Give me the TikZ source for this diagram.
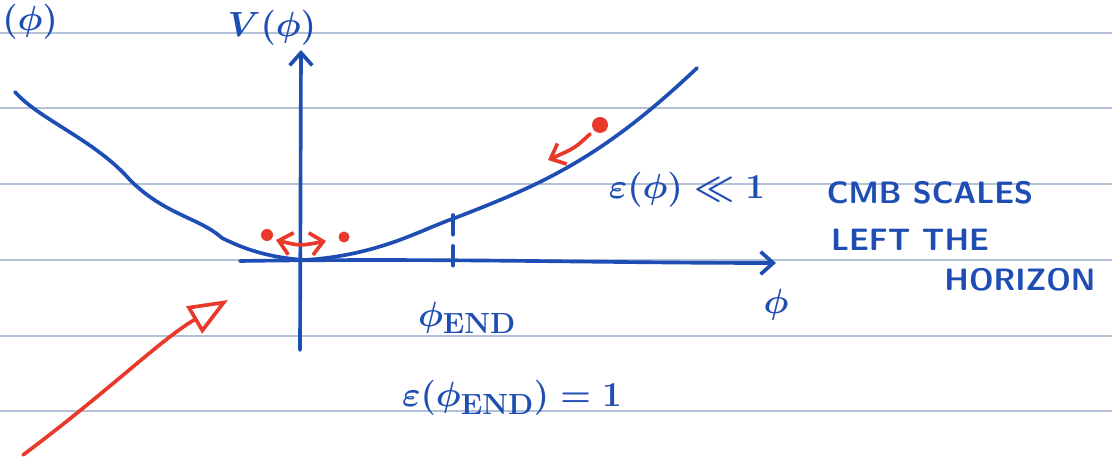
\documentclass[tikz,border=0pt]{standalone}
\usetikzlibrary{arrows.meta,positioning,calc}
\definecolor{ink}{HTML}{1E4DB4}
\definecolor{redink}{HTML}{E8392A}
\definecolor{rule}{HTML}{B4C0D6}

\begin{document}
\begin{tikzpicture}[
  x=0.025cm, y=-0.025cm,
  font=\fontsize{30}{32}\selectfont\boldmath,
  >={Straight Barb[length=9pt,width=16pt]},
  ruling/.style={rule, line width=1.2pt},
  pen/.style={ink, line width=2.6pt, line cap=round, line join=round},
  redpen/.style={redink, line width=2.6pt, line cap=round, line join=round},
  label/.style={ink, inner sep=0pt},
  caps/.style={ink, inner sep=0pt, font=\fontsize{22}{24}\sffamily\bfseries}
]
\useasboundingbox (0,0) rectangle (1112,457);
\clip (0,0) rectangle (1112,457);
\fill[white] (0,0) rectangle (1112,457);
% ruled paper
\foreach \y in {33,108,184,260,336,411}
  \draw[ruling] (0,\y) -- (1112,\y);

% axes
\coordinate (yfoot) at (300,350);
\coordinate (ytop) at (301,50);
\coordinate (xfoot) at (240,261);
\coordinate (xtip) at (776,263);
\draw[pen,->] (yfoot) -- (ytop);
\draw[pen,->] (xfoot) .. controls (450,258) and (600,263) .. (xtip);
\coordinate (tickup) at (453,215);
\coordinate (tickdn) at (453,273);
\draw[pen,dash pattern=on 14pt off 8pt] (tickup) -- (tickdn);

% potential
\draw[pen] (15,92) .. controls (40,120) and (95,140) .. (130,180)
  .. controls (165,215) and (200,218) .. (222,238)
  .. controls (250,252) and (275,258) .. (305,260)
  .. controls (380,255) and (420,230) .. (455,218)
  .. controls (540,185) and (600,160) .. (697,68);

% labels
\node[label] (vlab) at (272,28) {$V(\phi)$};
\node[label,anchor=west] (vcut) at (2,22) {$(\phi)$};
\node[label] (phiend) at (467,318) {$\phi_{\mathrm{END}}$};
\node[label,font=\fontsize{36}{38}\selectfont\boldmath] (philab) at (776,305) {$\phi$};
\node[label] (epsl) at (687,190) {$\varepsilon(\phi)\ll 1$};
\node[caps] (cmb) at (930,193) {CMB SCALES};
\node[caps] (left) at (910,240) {LEFT THE};
\node[caps] (hor) at (1020,280) {HORIZON};
\node[label] (epsend) at (512,398) {$\varepsilon(\phi_{\mathrm{END}})=1$};

% balls
\fill[redink] (600,125) circle (8);
\fill[redink] (267,235) circle (6);
\fill[redink] (344,237) circle (5.5);
\coordinate (rollst) at (590,134);
\coordinate (rollend) at (548,160);
\draw[redpen,->] (rollst) .. controls (575,148) .. (rollend);
\coordinate (oscl) at (276,240);
\coordinate (oscr) at (326,241);
\draw[redpen,<->] (oscl) .. controls (300,246) .. (oscr);
\coordinate (ptst) at (23,455);
\coordinate (ptend) at (228,300);
\draw[redpen,-{Triangle[open,length=28pt,width=22pt]}] (ptst) .. controls (110,390) and (160,340) .. (ptend);
\end{tikzpicture}
\end{document}
